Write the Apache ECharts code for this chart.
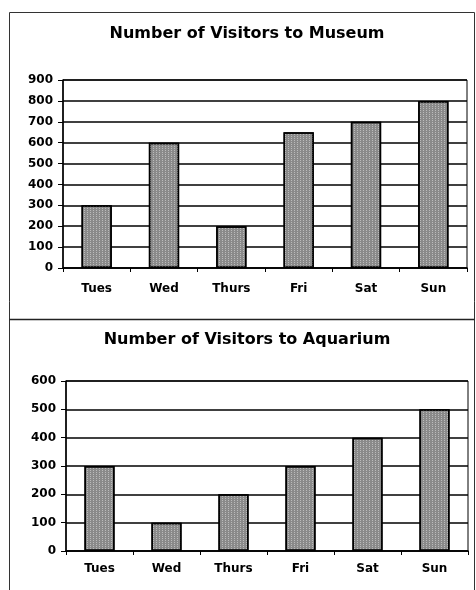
<!DOCTYPE html>
<html>
<head>
<meta charset="utf-8">
<script src="https://cdn.jsdelivr.net/npm/echarts@6/dist/echarts.min.js"></script>
<style>
html,body{margin:0;padding:0;background:#fff;}
#main{width:476px;height:590px;}
</style>
</head>
<body>
<div id="main"></div>
<script>
var days = ['Tues', 'Wed', 'Thurs', 'Fri', 'Sat', 'Sun'];
var museumVisitors = [300, 600, 200, 650, 700, 800];
var aquariumVisitors = [300, 100, 200, 300, 400, 500];
var museumTitle = 'Number of Visitors to Museum';
var aquariumTitle = 'Number of Visitors to Aquarium';
var museumMax = 900;
var aquariumMax = 600;
var tickStep = 100;

var FONT = 'DejaVu Sans';
var chart = echarts.init(document.getElementById('main'), null, {renderer: 'canvas'});

function xAxisFor(gridIndex, margin) {
  return {
    type: 'category', gridIndex: gridIndex, data: days,
    axisLine: {lineStyle: {color: '#000', width: 1.5}},
    axisTick: {show: true, length: 4, lineStyle: {color: '#000'}},
    axisLabel: {color: '#000', fontFamily: FONT, fontWeight: 'bold', fontSize: 12, margin: margin}
  };
}
function yAxisFor(gridIndex, max) {
  return {
    type: 'value', gridIndex: gridIndex, min: 0, max: max, interval: tickStep,
    axisLine: {show: true, lineStyle: {color: '#000', width: 1.5}},
    axisTick: {show: true, length: 5, lineStyle: {color: '#000'}},
    axisLabel: {color: '#000', fontFamily: FONT, fontWeight: 'bold', fontSize: 12, margin: 10},
    splitLine: {show: true, lineStyle: {color: '#000', width: 1.5}}
  };
}
var barStyle = {
  color: '#8a8a8a', borderColor: '#000', borderWidth: 1.5,
  decal: {symbol: 'rect', symbolSize: 1, dashArrayX: [1, 2], dashArrayY: [1, 1], rotation: 0, color: 'rgba(220,220,220,0.6)'}
};

chart.setOption({
  animation: false,
  backgroundColor: '#fff',
  aria: {enabled: false},
  title: [
    {text: museumTitle, left: 247, top: 26, textAlign: 'center', padding: 0,
     textStyle: {fontFamily: FONT, fontWeight: 'bold', fontSize: 16, color: '#000'}},
    {text: aquariumTitle, left: 247, top: 332, textAlign: 'center', padding: 0,
     textStyle: {fontFamily: FONT, fontWeight: 'bold', fontSize: 16, color: '#000'}}
  ],
  graphic: [
    {type: 'rect', shape: {x: 9.5, y: 12.5, width: 465, height: 600}, style: {fill: 'none', stroke: '#333', lineWidth: 1}, silent: true},
    {type: 'line', shape: {x1: 9.5, y1: 319.5, x2: 474.5, y2: 319.5}, style: {stroke: '#222', lineWidth: 1.5}, silent: true}
  ],
  grid: [
    {left: 63, right: 9, top: 80, height: 188, show: true, borderColor: '#000', borderWidth: 1, backgroundColor: 'transparent'},
    {left: 66, right: 8, top: 381, height: 170, show: true, borderColor: '#000', borderWidth: 1, backgroundColor: 'transparent'}
  ],
  xAxis: [xAxisFor(0, 15), xAxisFor(1, 12)],
  yAxis: [yAxisFor(0, museumMax), yAxisFor(1, aquariumMax)],
  series: [
    {type: 'bar', xAxisIndex: 0, yAxisIndex: 0, data: museumVisitors, barWidth: '45%', itemStyle: barStyle},
    {type: 'bar', xAxisIndex: 1, yAxisIndex: 1, data: aquariumVisitors, barWidth: '45%', itemStyle: barStyle}
  ]
});
</script>
</body>
</html>
